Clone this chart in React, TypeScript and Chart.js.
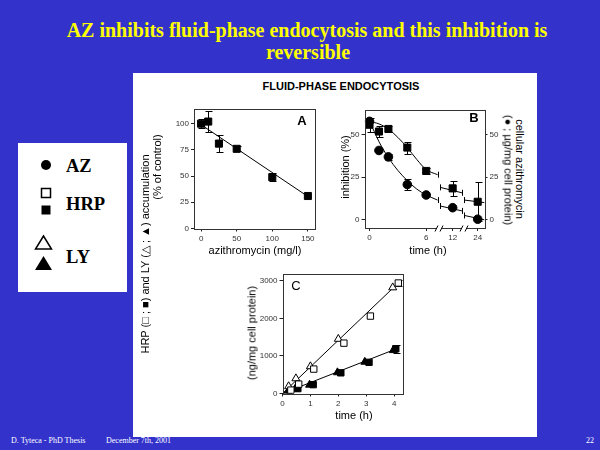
import React, { useEffect, useRef } from 'react';
import { Chart, registerables } from 'chart.js';

Chart.register(...registerables);

const SANS = '"Liberation Sans", Arial, Helvetica, sans-serif';
const SERIF = '"Liberation Serif", "Times New Roman", serif';
Chart.defaults.font.family = SANS;

// ---------- Panel A : dose response ----------
const A_DOSE = [0, 10, 25, 50, 100, 150];
const A_ACCUM = [100, 102, 81, 76, 49, 31];
const A_ERR = [4, 10, 8, 2.5, 4, 0];
const A_FIT_DOSE = [0, 150];
const A_FIT_ACCUM = [99, 30.5];
const A_TICKS_X = [0, 50, 100, 150];
const A_TICKS_Y = [0, 25, 50, 75, 100];

// ---------- Panel B : reversibility (time in hours) ----------
const B_TIME = [0, 1, 2, 4, 6, 12, 24];
const B_INHIB = [56, 52, 53.5, 42.5, 28.7, 18.4, 10.5];
const B_INHIB_ERR = [4, 3, 2, 3.5, 2, 4.3, 11.5];
const B_AZ = [58, 40.8, 37, 20.7, 14.5, 7, 0.2];
const B_AZ_ERR = [0, 0, 2, 3, 0, 0, 0];
const B_FIT_TIME = [0, 0.5, 1, 1.5, 2, 3, 4, 5, 6, 8.57];
const B_FIT_INHIB = [57.5, 57.3, 56.5, 55.2, 53.5, 48.5, 42.5, 35.5, 29.5, 26.5];
const B_FIT_AZ = [58, 52, 46, 41, 36.5, 29, 23, 18, 14.5, 11.5];
const B_SEG2_TIME = [9.17, 16.44];
const B_SEG2_INHIB = [19, 15.8];
const B_SEG2_AZ = [8, 5.1];
const B_SEG3_TIME = [17.66, 27.3];
const B_SEG3_INHIB = [11.5, 10];
const B_SEG3_AZ = [2.4, -0.2];
const B_TICK_HOURS = [0, 6, 12, 24];
const B_TICK_LABELS = ['0', '6', '12', '24'];
const B_TICK_POS = [0, 6, 8.8, 11.45];
const B_BREAK_POS = [7.37, 10.02];
const B_TICKS_Y = [0, 25, 50];

// ---------- Panel C : uptake kinetics ----------
const C_LY_OPEN_T = [0.22, 0.48, 1, 2, 3.95];
const C_LY_OPEN = [190, 400, 720, 1450, 2820];
const C_HRP_OPEN_T = [0.3, 0.58, 1.12, 2.2, 3.15, 4.15];
const C_HRP_OPEN = [90, 250, 650, 1340, 2060, 2940];
const C_HRP_OPEN_ERR = [0, 0, 0, 0, 0, 70];
const C_LY_FILL_T = [0.2, 0.45, 0.97, 1.97, 2.95, 3.97];
const C_LY_FILL = [60, 120, 230, 560, 840, 1150];
const C_HRP_FILL_T = [0.28, 0.55, 1.1, 2.09, 3.1, 4.06];
const C_HRP_FILL = [30, 130, 235, 550, 830, 1190];
const C_HRP_FILL_ERR = [0, 0, 0, 0, 0, 110];
const C_FIT_T = [0, 4.05];
const C_FIT_OPEN = [0, 2870];
const C_FIT_FILL = [0, 1180];
const C_TICKS_X = [0, 1, 2, 3, 4];
const C_TICKS_Y = [0, 1000, 2000, 3000];

// broken time axis of panel B
function bPos(h: number): number {
  const H = B_TICK_HOURS, P = B_TICK_POS;
  for (let i = 1; i < H.length; i++) {
    if (h <= H[i] || i === H.length - 1) {
      return P[i - 1] + ((h - H[i - 1]) * (P[i] - P[i - 1])) / (H[i] - H[i - 1]);
    }
  }
  return h;
}

const pts = (xs: number[], ys: number[], fx = (v: number) => v) => xs.map((x, i) => ({ x: fx(x), y: ys[i] }));

type ErrSpec = { x: number[]; y: number[]; err: number[]; cap: number; fx?: (v: number) => number; yAxis?: string };
type CapSpec = { x: number[]; y: number[]; half: number; fx?: (v: number) => number };

function errPlugin(id: string, specs: ErrSpec[], caps: CapSpec[] = []) {
  return {
    id,
    beforeDatasetsDraw(chart: any) {
      const ctx = chart.ctx;
      const xs = chart.scales.x;
      ctx.save();
      ctx.strokeStyle = '#000';
      ctx.lineWidth = 1;
      for (const s of specs) {
        const ys = chart.scales[s.yAxis || 'y'];
        s.x.forEach((xv, i) => {
          const e = s.err[i];
          if (!e) return;
          const px = Math.round(xs.getPixelForValue(s.fx ? s.fx(xv) : xv)) + 0.5;
          const y1 = Math.round(ys.getPixelForValue(s.y[i] + e)) + 0.5;
          const y2 = Math.round(ys.getPixelForValue(s.y[i] - e)) + 0.5;
          ctx.beginPath();
          ctx.moveTo(px, y1); ctx.lineTo(px, y2);
          ctx.moveTo(px - s.cap, y1); ctx.lineTo(px + s.cap + 1, y1);
          ctx.moveTo(px - s.cap, y2); ctx.lineTo(px + s.cap + 1, y2);
          ctx.stroke();
        });
      }
      const ys = chart.scales.y;
      for (const c of caps) {
        c.x.forEach((xv, i) => {
          const px = Math.round(xs.getPixelForValue(c.fx ? c.fx(xv) : xv)) + 0.5;
          const py = ys.getPixelForValue(c.y[i]);
          ctx.beginPath();
          ctx.moveTo(px, py - c.half); ctx.lineTo(px, py + c.half);
          ctx.stroke();
        });
      }
      ctx.restore();
    },
  };
}

const framePlugin = {
  id: 'frame',
  afterDraw(chart: any) {
    const { left, top, right, bottom } = chart.chartArea;
    const ctx = chart.ctx;
    ctx.save();
    ctx.strokeStyle = '#333';
    ctx.lineWidth = 1;
    ctx.strokeRect(Math.round(left) + 0.5, Math.round(top) + 0.5, Math.round(right) - Math.round(left), Math.round(bottom) - Math.round(top));
    ctx.restore();
  },
};

const breakPlugin = {
  id: 'breaks',
  afterDraw(chart: any) {
    const ctx = chart.ctx;
    const xs = chart.scales.x;
    const by = Math.round(chart.chartArea.bottom) + 0.5;
    ctx.save();
    for (const b of B_BREAK_POS) {
      const bx = Math.round(xs.getPixelForValue(b));
      ctx.fillStyle = '#fff';
      ctx.fillRect(bx - 2, by - 1.5, 4, 3);
      ctx.strokeStyle = '#000';
      ctx.lineWidth = 1;
      ctx.beginPath();
      ctx.moveTo(bx - 4, by + 3); ctx.lineTo(bx - 1, by - 3);
      ctx.moveTo(bx + 1, by + 3); ctx.lineTo(bx + 4, by - 3);
      ctx.stroke();
    }
    ctx.restore();
  },
};

function axis(opts: any) {
  const { min, max, ticks, labels, position, size, horizontal, show = true } = opts;
  return {
    type: 'linear',
    position,
    min,
    max,
    display: show,
    afterBuildTicks: (s: any) => { s.ticks = ticks.map((v: number) => ({ value: v })); },
    afterFit: (s: any) => { if (horizontal) s.height = size; else s.width = size; },
    grid: { display: true, drawOnChartArea: false, drawTicks: true, tickLength: 3, color: '#222', lineWidth: 1 },
    border: { display: false },
    ticks: {
      font: { size: 8 },
      color: '#333',
      padding: 2,
      maxRotation: 0,
      autoSkip: false,
      callback: (v: any, i: number) => (labels ? labels[i] : String(v)),
    },
  };
}

type Rect = { x: number; y: number; w: number; h: number };

function baseOptions(scales: any, padding: any) {
  return {
    responsive: false,
    maintainAspectRatio: false,
    devicePixelRatio: 1,
    animation: false,
    events: [],
    layout: { padding },
    plugins: { legend: { display: false }, tooltip: { enabled: false }, title: { display: false } },
    scales,
  };
}

function makeA(): any {
  return {
    type: 'scatter',
    data: {
      datasets: [
        { data: pts(A_DOSE, A_ACCUM), pointStyle: 'rect', pointRadius: 5, backgroundColor: '#000', borderColor: '#000', borderWidth: 1 },
        { data: pts(A_FIT_DOSE, A_FIT_ACCUM), showLine: true, pointRadius: 0, borderColor: '#000', borderWidth: 1 },
      ],
    },
    options: baseOptions(
      {
        x: axis({ min: -10, max: 160, ticks: A_TICKS_X, position: 'bottom', size: 18, horizontal: true }),
        y: axis({ min: 0, max: 114, ticks: A_TICKS_Y, position: 'left', size: 26 }),
      },
      { left: 8, right: 15, top: 9, bottom: 3.5 }
    ),
    plugins: [errPlugin('errA', [{ x: A_DOSE, y: A_ACCUM, err: A_ERR, cap: 3 }]), framePlugin],
  };
}

function makeB(): any {
  const line = (xs: number[], ys: number[]) => ({ data: pts(xs, ys, bPos), showLine: true, pointRadius: 0, borderColor: '#000', borderWidth: 1, cubicInterpolationMode: 'monotone' });
  return {
    type: 'scatter',
    data: {
      datasets: [
        { data: pts(B_TIME, B_AZ, bPos), pointStyle: 'circle', pointRadius: 4.3, backgroundColor: '#000', borderColor: '#000', borderWidth: 1 },
        { data: pts(B_TIME, B_INHIB, bPos), pointStyle: 'rect', pointRadius: 5, backgroundColor: '#000', borderColor: '#000', borderWidth: 1 },
        line(B_FIT_TIME, B_FIT_INHIB),
        line(B_FIT_TIME, B_FIT_AZ),
        line(B_SEG2_TIME, B_SEG2_INHIB),
        line(B_SEG2_TIME, B_SEG2_AZ),
        line(B_SEG3_TIME, B_SEG3_INHIB),
        line(B_SEG3_TIME, B_SEG3_AZ),
      ],
    },
    options: baseOptions(
      {
        x: axis({ min: -0.53, max: 12.17, ticks: B_TICK_POS, labels: B_TICK_LABELS, position: 'bottom', size: 18, horizontal: true }),
        y: axis({ min: -5, max: 65, ticks: B_TICKS_Y, position: 'left', size: 20 }),
        y2: axis({ min: -5, max: 65, ticks: B_TICKS_Y, position: 'right', size: 20 }),
      },
      { left: 4.5, right: 5.5, top: 9.5, bottom: 4 }
    ),
    plugins: [
      errPlugin(
        'errB',
        [
          { x: B_TIME, y: B_INHIB, err: B_INHIB_ERR, cap: 3, fx: bPos },
          { x: B_TIME, y: B_AZ, err: B_AZ_ERR, cap: 3, fx: bPos },
        ],
        [
          { x: [B_FIT_TIME[B_FIT_TIME.length - 1], B_FIT_TIME[B_FIT_TIME.length - 1]], y: [B_FIT_INHIB[B_FIT_INHIB.length - 1], B_FIT_AZ[B_FIT_AZ.length - 1]], half: 3, fx: bPos },
          { x: [B_SEG2_TIME[0], B_SEG2_TIME[1], B_SEG2_TIME[0], B_SEG2_TIME[1]], y: [B_SEG2_INHIB[0], B_SEG2_INHIB[1], B_SEG2_AZ[0], B_SEG2_AZ[1]], half: 3, fx: bPos },
          { x: [B_SEG3_TIME[0], B_SEG3_TIME[0]], y: [B_SEG3_INHIB[0], B_SEG3_AZ[0]], half: 3, fx: bPos },
        ]
      ),
      framePlugin,
      breakPlugin,
    ],
  };
}

function makeC(): any {
  return {
    type: 'scatter',
    data: {
      datasets: [
        { data: pts(C_HRP_OPEN_T, C_HRP_OPEN), pointStyle: 'rect', pointRadius: 4.5, backgroundColor: '#fff', borderColor: '#000', borderWidth: 1 },
        { data: pts(C_LY_OPEN_T, C_LY_OPEN), pointStyle: 'triangle', pointRadius: 4.6, backgroundColor: '#fff', borderColor: '#000', borderWidth: 1 },
        { data: pts(C_HRP_FILL_T, C_HRP_FILL), pointStyle: 'rect', pointRadius: 4.5, backgroundColor: '#000', borderColor: '#000', borderWidth: 1 },
        { data: pts(C_LY_FILL_T, C_LY_FILL), pointStyle: 'triangle', pointRadius: 4.6, backgroundColor: '#000', borderColor: '#000', borderWidth: 1 },
        { data: pts(C_FIT_T, C_FIT_OPEN), showLine: true, pointRadius: 0, borderColor: '#000', borderWidth: 1 },
        { data: pts(C_FIT_T, C_FIT_FILL), showLine: true, pointRadius: 0, borderColor: '#000', borderWidth: 1 },
      ],
    },
    options: baseOptions(
      {
        x: axis({ min: 0, max: 4.3, ticks: C_TICKS_X, position: 'bottom', size: 16, horizontal: true }),
        y: axis({ min: 0, max: 3180, ticks: C_TICKS_Y, position: 'left', size: 24 }),
      },
      { left: 3.5, right: 12.5, top: 9, bottom: 5.5 }
    ),
    plugins: [
      errPlugin('errC', [
        { x: C_HRP_OPEN_T, y: C_HRP_OPEN, err: C_HRP_OPEN_ERR, cap: 3 },
        { x: C_HRP_FILL_T, y: C_HRP_FILL, err: C_HRP_FILL_ERR, cap: 3 },
      ]),
      framePlugin,
    ],
  };
}

function ChartBox({ rect, make }: { rect: Rect; make: () => any }) {
  const ref = useRef<HTMLCanvasElement>(null);
  useEffect(() => {
    const c = new Chart(ref.current as HTMLCanvasElement, make());
    return () => c.destroy();
  }, []);
  return (
    <canvas
      ref={ref}
      width={rect.w}
      height={rect.h}
      style={{ position: 'absolute', left: rect.x, top: rect.y, width: rect.w, height: rect.h }}
    />
  );
}

function Txt(props: {
  x: number; y: number; rot?: number; size: number; weight?: string | number; family?: string; color?: string; anchor?: 'left' | 'center'; children: React.ReactNode;
}) {
  const { x, y, rot = 0, size, weight = 'normal', family = SANS, color = '#000', anchor = 'center', children } = props;
  return (
    <div
      style={{
        position: 'absolute',
        left: x,
        top: y,
        transform: `translate(${anchor === 'left' ? '0' : '-50%'}, -50%) rotate(${rot}deg)`,
        fontSize: size,
        fontWeight: weight as any,
        fontFamily: family,
        color,
        whiteSpace: 'nowrap',
        lineHeight: 1,
      }}
    >
      {children}
    </div>
  );
}

export default function App() {
  return (
    <div style={{ position: 'absolute', left: 0, top: 0, width: 600, height: 450, background: '#3333cc', overflow: 'hidden' }}>
      <Txt x={307} y={30} size={20} weight="bold" family={SERIF} color="#ffff00">
        AZ inhibits fluid-phase endocytosis and this inhibition is
      </Txt>
      <Txt x={308} y={52} size={20} weight="bold" family={SERIF} color="#ffff00">
        reversible
      </Txt>

      {/* white figure panel */}
      <div style={{ position: 'absolute', left: 133, top: 73, width: 404, height: 364, background: '#fff' }} />

      {/* legend box */}
      <div style={{ position: 'absolute', left: 18, top: 143, width: 109, height: 149, background: '#fff' }} />
      <svg style={{ position: 'absolute', left: 18, top: 143 }} width={109} height={149}>
        <circle cx={28} cy={22} r={5} fill="#000" />
        <rect x={23.5} y={45.5} width={9} height={9} fill="#fff" stroke="#000" strokeWidth={1.5} />
        <rect x={23.5} y={62.5} width={9} height={9} fill="#000" />
        <polygon points="25.5,93 17.5,106 33.5,106" fill="#fff" stroke="#000" strokeWidth={1.5} />
        <polygon points="25.5,113 17,127 34,127" fill="#000" />
      </svg>
      <Txt x={66} y={166} size={18.5} weight="bold" family={SERIF} anchor="left">AZ</Txt>
      <Txt x={66} y={204} size={18.5} weight="bold" family={SERIF} anchor="left">HRP</Txt>
      <Txt x={66} y={257} size={18.5} weight="bold" family={SERIF} anchor="left">LY</Txt>

      <ChartBox rect={{ x: 160, y: 100, w: 170, h: 150 }} make={makeA} />
      <ChartBox rect={{ x: 340, y: 100, w: 170, h: 150 }} make={makeB} />
      <ChartBox rect={{ x: 255, y: 265, w: 160, h: 150 }} make={makeC} />

      <Txt x={341} y={86} size={11} weight="bold">FLUID-PHASE ENDOCYTOSIS</Txt>

      <Txt x={302} y={120} size={13} weight="bold">A</Txt>
      <Txt x={474} y={117} size={13} weight="bold">B</Txt>
      <Txt x={296} y={285} size={13}>C</Txt>

      <Txt x={255} y={250} size={11}>azithromycin (mg/l)</Txt>
      <Txt x={157} y={167} size={11} rot={-90}>(% of control)</Txt>
      <Txt x={145} y={254} size={11} rot={-90}>HRP (□ ; ■) and LY (△ ; ▲) accumulation</Txt>

      <Txt x={428} y={250} size={11}>time (h)</Txt>
      <Txt x={345} y={167} size={11} rot={-90}>inhibition (%)</Txt>
      <Txt x={519} y={169} size={11} rot={90}>cellular azithromycin</Txt>
      <Txt x={508} y={170} size={11} rot={90}>(● ; µg/mg cell protein)</Txt>

      <Txt x={354} y={415} size={11}>time (h)</Txt>
      <Txt x={252} y={333} size={11} rot={-90}>(ng/mg cell protein)</Txt>

      <Txt x={11} y={441} size={8} family={SERIF} color="#fff" anchor="left">D. Tyteca - PhD Thesis</Txt>
      <Txt x={106} y={441} size={8} family={SERIF} color="#fff" anchor="left">December 7th, 2001</Txt>
      <Txt x={586} y={441} size={8} family={SERIF} color="#fff" anchor="left">22</Txt>
    </div>
  );
}
